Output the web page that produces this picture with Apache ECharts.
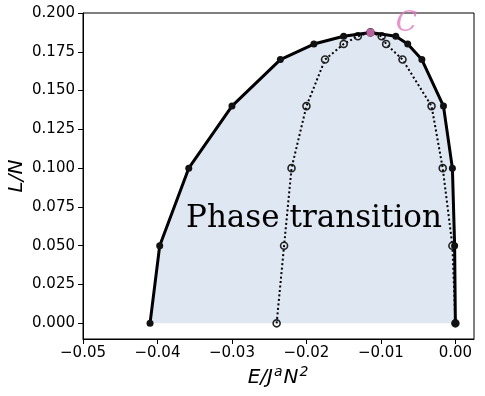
<!DOCTYPE html>
<html><head><meta charset="utf-8">
<script src="https://cdn.jsdelivr.net/npm/echarts@6/dist/echarts.min.js"></script>
<style>html,body{margin:0;padding:0;background:#fff}#c{width:485px;height:396px}</style>
</head><body><div id="c"></div>
<script>
// Outer (solid) curve
const solidE = [-0.0410,-0.0397,-0.0358,-0.0300,-0.0235,-0.0190,-0.0150,-0.0114,-0.0080,-0.0064,-0.0045,-0.0016,-0.0004,-0.0001,0.0000];
const solidL = [0.000,0.050,0.100,0.140,0.170,0.180,0.185,0.1875,0.185,0.180,0.170,0.140,0.100,0.050,0.000];
// Inner (dotted) curve
const dottedE = [-0.0240,-0.0230,-0.0220,-0.0200,-0.0175,-0.0150,-0.0131,-0.0114,-0.0099,-0.0093,-0.0071,-0.0032,-0.0017,-0.0004,0.0000];
const dottedL = [0.000,0.050,0.100,0.140,0.170,0.180,0.185,0.1875,0.185,0.180,0.170,0.140,0.100,0.050,0.000];
// Critical point
const critE = -0.0114, critL = 0.1875;
// Ticks
const xTicks = [-0.05,-0.04,-0.03,-0.02,-0.01,0.00];
const yTicks = [0,0.025,0.05,0.075,0.1,0.125,0.15,0.175,0.2];

const zip = (a,b)=>a.map((v,i)=>[v,b[i]]);
const fmt = (v,d)=>{const s=Math.abs(v)<1e-12?(0).toFixed(d):v.toFixed(d);return s.replace('-','\u2212');};

const chart = echarts.init(document.getElementById('c'));
chart.setOption({
  animation:false,
  grid:{left:83,right:11,top:13,bottom:57,outerBoundsMode:'none',containLabel:false,show:true,borderColor:'#000',borderWidth:1,backgroundColor:'transparent'},
  xAxis:{type:'value',min:-0.05,max:0.0025,
    name:'{i|E/J}{s|a}{i|N}{s|2}',nameLocation:'middle',nameGap:26,nameMoveOverlap:false,
    nameTextStyle:{rich:{i:{fontFamily:'DejaVu Sans',fontStyle:'italic',fontSize:20,lineHeight:26,color:'#000'},
                         s:{fontFamily:'DejaVu Sans',fontStyle:'italic',fontSize:14,lineHeight:14,color:'#000',verticalAlign:'top',padding:[0,1,0,1]}}},
    axisLine:{show:true,onZero:false,lineStyle:{color:'#000',width:1}},
    axisTick:{show:true,length:5,lineStyle:{color:'#000'},customValues:xTicks},
    axisLabel:{color:'#000',fontFamily:'DejaVu Sans',fontSize:15,margin:7,customValues:xTicks,formatter:v=>fmt(v,2)},
    splitLine:{show:false}},
  yAxis:{type:'value',min:-0.0101,max:0.2,
    name:'L/N',nameLocation:'middle',nameGap:56,nameRotate:90,nameMoveOverlap:false,
    nameTextStyle:{fontFamily:'DejaVu Sans',fontStyle:'italic',fontSize:20,color:'#000'},
    axisLine:{show:true,onZero:false,lineStyle:{color:'#000',width:1}},
    axisTick:{show:true,length:5,lineStyle:{color:'#000'},customValues:yTicks},
    axisLabel:{color:'#000',fontFamily:'DejaVu Sans',fontSize:15,margin:8,customValues:yTicks,formatter:v=>fmt(v,3)},
    splitLine:{show:false}},
  graphic:[{type:'text',x:314,y:219,z:10,
    style:{text:'Phase transition',font:'31px "DejaVu Serif"',fill:'#000',textAlign:'center',textVerticalAlign:'middle'}}],
  series:[
    {type:'line',data:zip(solidE,solidL),symbol:'none',z:1,
     lineStyle:{width:0},areaStyle:{color:'#dfe7f2',opacity:1,origin:0}},
    {type:'line',data:zip(dottedE,dottedL),z:3,symbol:'circle',symbolSize:7,
     lineStyle:{color:'#000',width:2,type:[2,2.5]},
     itemStyle:{color:'rgba(0,0,0,0)',borderColor:'#222',borderWidth:1.6}},
    {type:'line',data:zip(solidE,solidL),z:4,symbol:'circle',symbolSize:7,
     lineStyle:{color:'#000',width:3},itemStyle:{color:'#111'}},
    {type:'scatter',data:[[critE,critL]],z:6,symbol:'circle',symbolSize:8,
     itemStyle:{color:'#e377c2'},
     label:{show:true,formatter:'C',position:'inside',offset:[36,-9],
       fontFamily:'DejaVu Serif',fontStyle:'italic',fontSize:28,color:'#e377c2'}}
  ]
});
</script></body></html>
